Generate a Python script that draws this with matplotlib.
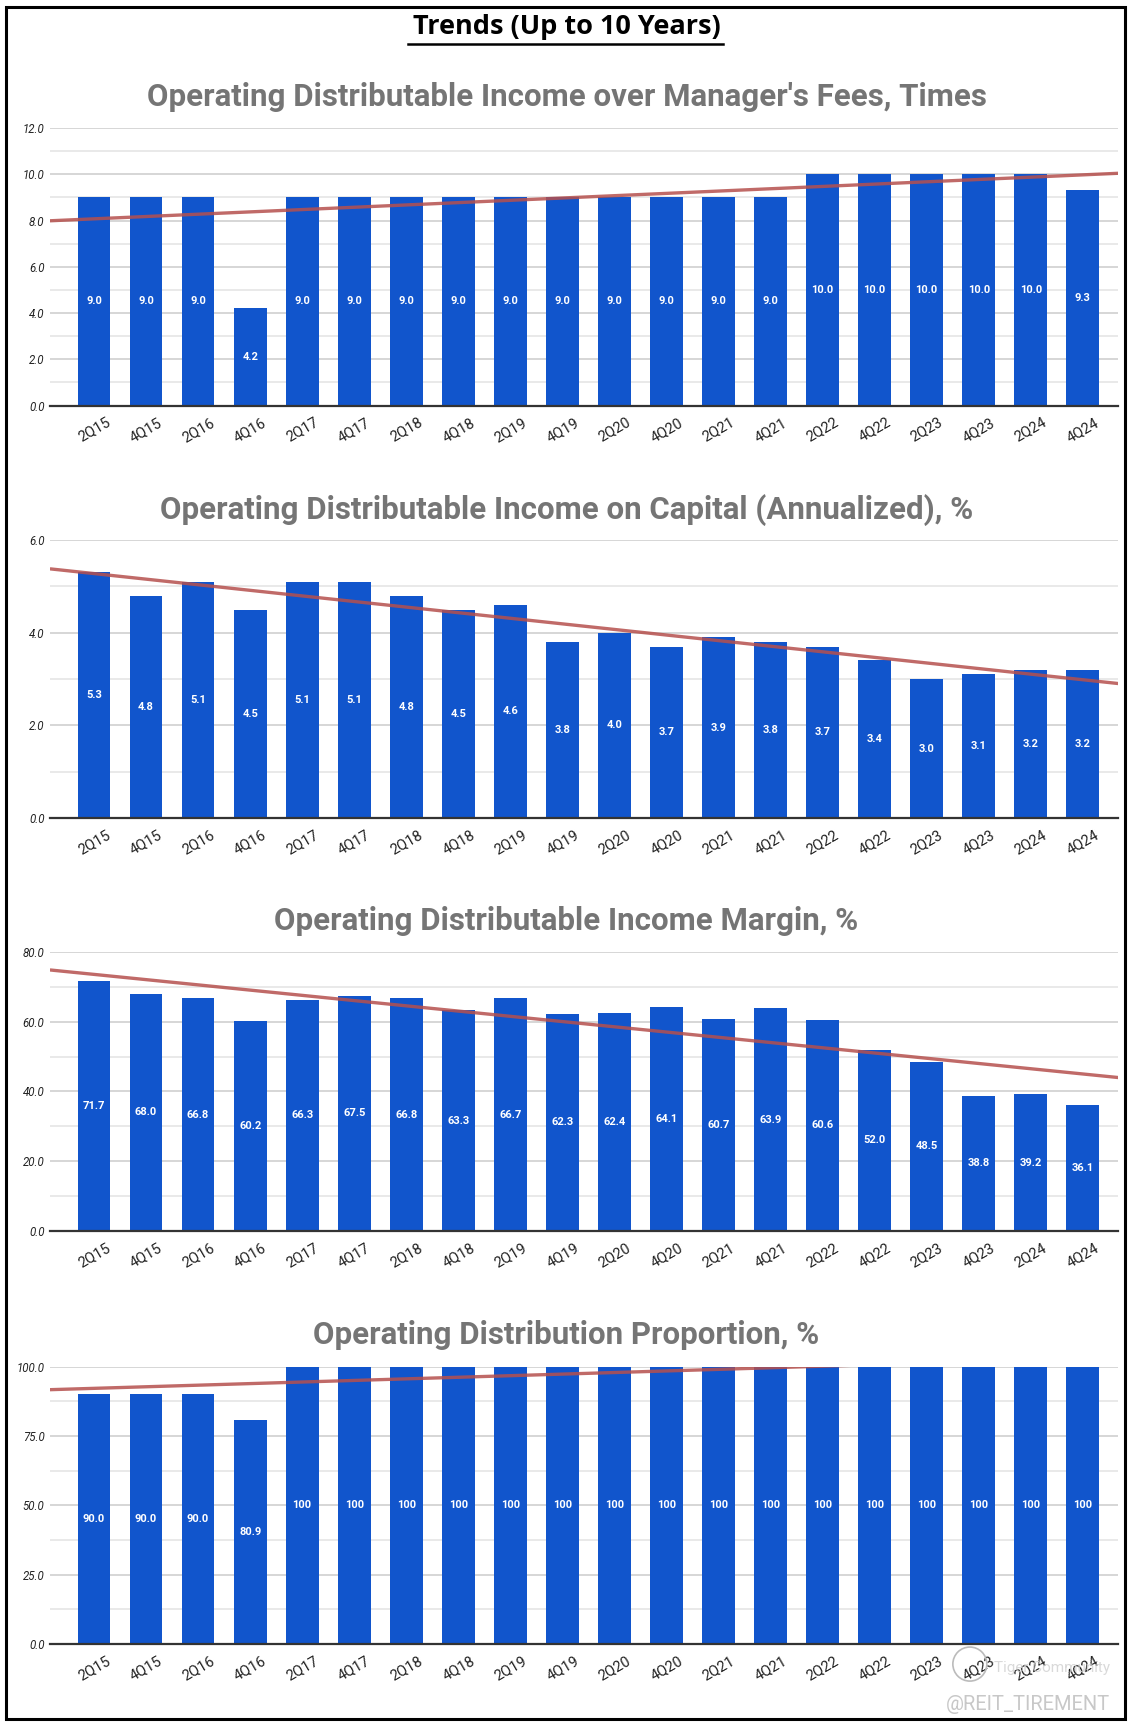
import numpy as np
import matplotlib
matplotlib.use("Agg")
import matplotlib.pyplot as plt
from matplotlib.patches import Rectangle, Ellipse
from matplotlib.lines import Line2D

quarters = ["2Q15", "4Q15", "2Q16", "4Q16", "2Q17", "4Q17", "2Q18", "4Q18", "2Q19", "4Q19",
            "2Q20", "4Q20", "2Q21", "4Q21", "2Q22", "4Q22", "2Q23", "4Q23", "2Q24", "4Q24"]

fees_times = [9.0, 9.0, 9.0, 4.2, 9.0, 9.0, 9.0, 9.0, 9.0, 9.0,
              9.0, 9.0, 9.0, 9.0, 10.0, 10.0, 10.0, 10.0, 10.0, 9.3]
on_capital = [5.3, 4.8, 5.1, 4.5, 5.1, 5.1, 4.8, 4.5, 4.6, 3.8,
              4.0, 3.7, 3.9, 3.8, 3.7, 3.4, 3.0, 3.1, 3.2, 3.2]
margin = [71.7, 68.0, 66.8, 60.2, 66.3, 67.5, 66.8, 63.3, 66.7, 62.3,
          62.4, 64.1, 60.7, 63.9, 60.6, 52.0, 48.5, 38.8, 39.2, 36.1]
proportion = [90.0, 90.0, 90.0, 80.9, 100, 100, 100, 100, 100, 100,
              100, 100, 100, 100, 100, 100, 100, 100, 100, 100]
proportion_labels = ["90.0", "90.0", "90.0", "80.9"] + ["100"] * 16

titles = ["Operating Distributable Income over Manager's Fees, Times",
          "Operating Distributable Income on Capital (Annualized), %",
          "Operating Distributable Income Margin, %",
          "Operating Distribution Proportion, %"]

BLUE = "#1155cc"
TREND = "#b5504d"
GRID = "#cccccc"
MINOR = "#e3e3e3"

fig = plt.figure(figsize=(11.33, 17.28), dpi=100)
fig.patch.set_facecolor("white")

# outer frame
fig.add_artist(Rectangle((0.005, 0.005), 0.988, 0.991, transform=fig.transFigure,
                         fill=False, edgecolor="black", lw=2.2))

# main title with underline
fig.text(0.5, 0.9845, "Trends (Up to 10 Years)", ha="center", va="center",
         fontsize=19.5, fontweight="bold", family="Open Sans")
fig.add_artist(Line2D([0.36, 0.638], [0.9745, 0.9745], transform=fig.transFigure,
                      color="black", lw=1.8))

panels = [
    (fees_times, None, 12, 2, 1, [0.7653, 0.9259], 0.944),
    (on_capital, None, 6, 2, 1, [0.5266, 0.6875], 0.705),
    (margin, None, 80, 20, 10, [0.2876, 0.4491], 0.467),
    (proportion, proportion_labels, 100, 25, 12.5, [0.0486, 0.2092], 0.2275),
]

x = np.arange(len(quarters))
left, right = 0.0441, 0.987
xlo, xhi = -0.846, 19.68

for (vals, labels, ymax, major, minor, (bot, top), ty), title in zip(panels, titles):
    ax = fig.add_axes([left, bot, right - left, top - bot])
    ax.set_xlim(xlo, xhi)
    ax.set_ylim(0, ymax)
    ax.set_yticks(np.arange(0, ymax + 0.01, major))
    ax.set_yticks(np.arange(minor, ymax, major), minor=True)
    ax.grid(axis="y", which="major", color=GRID, lw=1.1, zorder=0)
    ax.grid(axis="y", which="minor", color=MINOR, lw=1.1, zorder=0)
    ax.set_axisbelow(True)
    for s in ["top", "right", "left"]:
        ax.spines[s].set_visible(False)
    ax.spines["bottom"].set_color("#333333")
    ax.spines["bottom"].set_linewidth(1.6)
    ax.spines["bottom"].set_zorder(4)

    ax.bar(x, vals, width=0.63, color=BLUE, zorder=2)

    if labels is None:
        labels = ["%.1f" % v for v in vals]
    for xi, v, lab in zip(x, vals, labels):
        ax.text(xi, v / 2, lab, ha="center", va="center", color="white",
                fontsize=8, fontweight="bold", family="Roboto", zorder=3)

    # linear trendline across the whole axis
    k, b = np.polyfit(x, vals, 1)
    xt = np.array([xlo, xhi])
    ax.plot(xt, k * xt + b, color=TREND, lw=2.4, alpha=0.85, zorder=3,
            solid_capstyle="butt")

    ax.set_xticks(x)
    ax.set_xticklabels(quarters, rotation=30, ha="center", fontsize=10.5,
                       family="Roboto", color="#222222")
    ax.tick_params(axis="x", length=0, pad=7)
    ax.tick_params(axis="y", which="both", length=0, pad=4)
    ax.set_yticklabels(["%.1f" % t for t in ax.get_yticks()], fontsize=8.3,
                       family="Roboto", style="italic", color="#222222")

    fig.text(0.5, ty, title, ha="center", va="center", fontsize=22.5,
             fontweight="bold", family="Roboto", color="#757575")

# watermark
fig.add_artist(Ellipse((0.856, 0.037), 0.030, 0.0197, transform=fig.transFigure,
                       fill=False, edgecolor="#bbbbbb", lw=1.2))
fig.text(0.98, 0.0135, "@REIT_TIREMENT", ha="right", va="center", fontsize=14.5,
         family="Roboto", color="#c8c8c8")
fig.text(0.98, 0.035, "Tiger Community", ha="right", va="center", fontsize=11,
         family="Roboto", color="#d0d0d0", alpha=0.8)

fig.savefig("out.png", dpi=100, facecolor="white")
